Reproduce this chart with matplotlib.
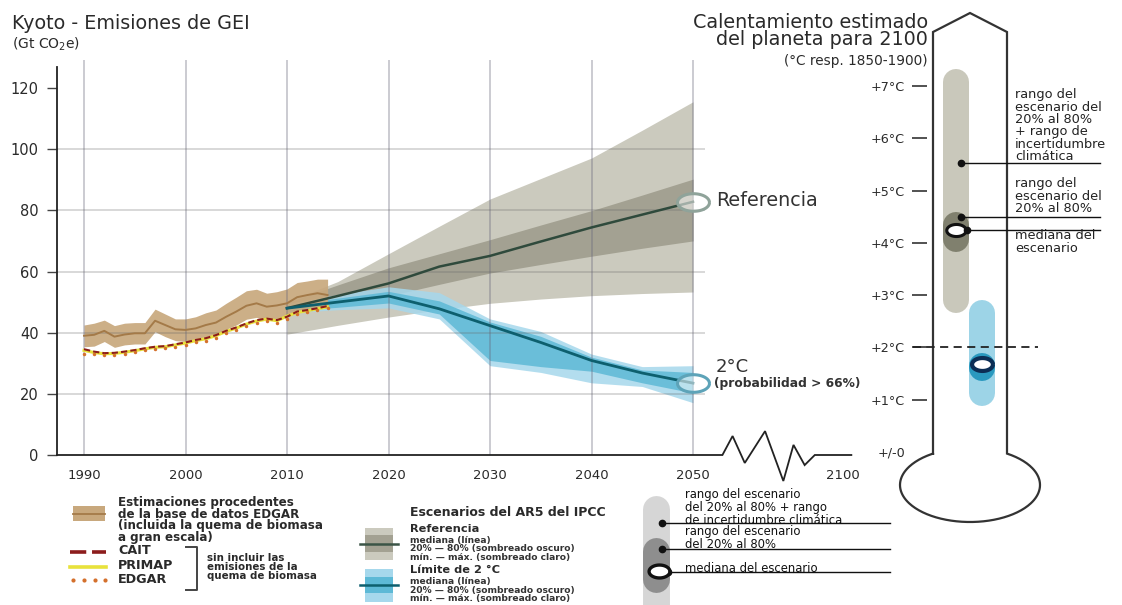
import numpy as np
import matplotlib
matplotlib.use('Agg')
import matplotlib.pyplot as plt
from matplotlib.path import Path

plt.rcParams['font.family'] = ['DejaVu Sans']

# ---- historical Kyoto GHG emissions (Gt CO2e), 1990-2014 ----
hist_years = list(range(1990, 2015))
edgar_bio_mid = [39.0, 39.3, 40.6, 38.7, 39.4, 39.8, 39.8, 43.9, 42.5, 41.1, 40.9, 41.4, 42.5,
                 43.3, 45.2, 46.9, 48.8, 49.6, 48.5, 48.9, 49.6, 51.6, 52.3, 52.9, 52.3]
edgar_bio_lo = [35.4, 35.6, 37.1, 35.2, 36.0, 36.3, 36.3, 40.3, 38.7, 37.4, 37.1, 37.8, 38.7,
                39.5, 41.1, 42.5, 44.4, 45.0, 44.1, 44.6, 45.2, 47.2, 48.0, 48.5, 48.0]
edgar_bio_hi = [42.5, 43.1, 44.1, 42.3, 43.1, 43.3, 43.3, 47.7, 46.1, 44.5, 44.5, 45.2, 46.5,
                47.4, 49.6, 51.6, 53.7, 54.2, 52.9, 53.4, 54.3, 56.4, 56.9, 57.5, 57.5]
cait = [34.6, 33.8, 33.3, 33.4, 33.8, 34.3, 34.9, 35.4, 35.6, 36.2, 36.8, 37.6, 38.2,
        39.2, 40.6, 41.7, 43.0, 44.1, 44.6, 44.1, 45.2, 46.9, 47.4, 48.0, 48.7]
primap = [34.2, 33.5, 33.1, 33.2, 33.6, 34.1, 34.7, 35.2, 35.4, 36.0, 36.6, 37.4, 38.0,
          39.0, 40.4, 41.5, 42.8, 43.8, 44.4, 43.9, 45.4, 46.6, 47.2, 47.8, 48.4]
edgar = [33.0, 33.1, 32.6, 32.8, 33.1, 33.6, 34.2, 34.7, 35.0, 35.4, 36.0, 36.8, 37.4,
         38.3, 39.8, 40.9, 42.2, 43.2, 43.8, 43.3, 44.6, 46.0, 46.7, 47.3, 48.0]

# ---- IPCC AR5 scenarios ----
scen_years = [2010, 2015, 2020, 2025, 2030, 2035, 2040, 2045, 2050]
ref_median = [48.0, 52.0, 56.1, 61.6, 65.1, 69.8, 74.4, 78.6, 82.8]
ref_p80 = [49.8, 55.6, 61.2, 65.8, 70.4, 75.2, 79.9, 85.0, 90.2]
ref_p20 = [46.3, 49.2, 52.0, 55.8, 59.5, 62.3, 65.0, 67.6, 70.0]
ref_max = [50.1, 56.7, 65.8, 74.8, 83.7, 90.4, 97.1, 106.2, 115.5]
ref_min = [39.5, 42.4, 45.1, 47.5, 49.6, 51.0, 52.1, 52.8, 53.3]

c2_median = [48.0, 50.0, 52.0, 47.8, 42.3, 36.8, 30.9, 26.8, 23.5]
c2_p80 = [49.0, 51.3, 53.5, 50.4, 43.5, 38.8, 32.0, 27.8, 27.0]
c2_p20 = [47.0, 48.3, 49.7, 46.1, 30.9, 28.9, 27.4, 23.6, 20.3]
c2_max = [49.5, 52.5, 55.0, 53.1, 44.5, 40.4, 33.0, 28.9, 29.2]
c2_min = [46.5, 47.5, 48.1, 44.5, 29.2, 27.0, 23.6, 22.4, 17.1]

# ---- warming by 2100 (degC vs 1850-1900) ----
ref_warm_range = [2.66, 7.32]
ref_warm_p20_80 = [3.82, 4.59]
ref_warm_median = 4.24
c2_warm_range = [0.88, 2.90]
c2_warm_p20_80 = [1.39, 1.85]
c2_warm_median = 1.68

year_ticks = [1990, 2000, 2010, 2020, 2030, 2040, 2050]
year_labels = ['1990', '2000', '2010', '2020', '2030', '2040', '2050']
value_ticks = [0, 20, 40, 60, 80, 100, 120]
value_grid = [20, 40, 60, 80, 100]
temp_ticks = [0, 1, 2, 3, 4, 5, 6, 7]
temp_labels = ['+/-0', '+1°C', '+2°C', '+3°C', '+4°C', '+5°C', '+6°C', '+7°C']

# colours
GRAY_LIGHT, GRAY_DARK, GRAY_LINE = '#cbcabe', '#a3a192', '#2f4a3c'
BLUE_LIGHT, BLUE_DARK, BLUE_LINE = '#a6d8ec', '#5db9d6', '#0d5f6e'
TAN, TAN_LINE = '#c8a87d', '#a47a48'
CAIT_C, PRIMAP_C, EDGAR_C = '#8c1c1c', '#e8e23c', '#d4702c'
TXT = '#2a2a2a'

W, H = 1122, 605
fig = plt.figure(figsize=(W / 100, H / 100), dpi=100)
ASC = 0.96  # line ascent used by the text layout, in em


def fx(px):
    return px / W


def fy(py):
    return 1 - py / H


def block(x, y_first, step, lines, size, **kw):
    # multi-line text; y_first is the centre of the first line, step the line pitch (px)
    em = size * 100 / 72
    fig.text(fx(x), fy(y_first - (ASC - 0.36) * em), '\n'.join(lines), va='top',
             linespacing=step / (ASC * em), fontsize=size, **kw)


# overlay in pixel units for the thermometer outline and legend swatches
deco = fig.add_axes([0, 0, 1, 1])
deco.set_xlim(0, W)
deco.set_ylim(H, 0)
deco.axis('off')

# ---------------- emissions panel ----------------
ax = fig.add_axes([fx(57), fy(455), (870 - 57) / W, (455 - 60) / H])
ax.patch.set_visible(False)
px_per_year = 10.15
px_per_gt = 3.0583
x_left = 1990 - (84 - 57) / px_per_year
x_right = 1990 + (870 - 84) / px_per_year
y_top = (455 - 60) / px_per_gt
ax.set_xlim(x_left, x_right)
ax.set_ylim(0, y_top)

ax.fill_between(scen_years, ref_min, ref_max, color=GRAY_LIGHT, lw=0, zorder=1)
ax.fill_between(scen_years, ref_p20, ref_p80, color=GRAY_DARK, lw=0, zorder=1.1)
ax.fill_between(scen_years, c2_min, c2_max, color=BLUE_LIGHT, alpha=0.85, lw=0, zorder=1.2)
ax.fill_between(scen_years, c2_p20, c2_p80, color=BLUE_DARK, alpha=0.85, lw=0, zorder=1.3)
ax.fill_between(hist_years, edgar_bio_lo, edgar_bio_hi, color=TAN, alpha=0.92, lw=0, zorder=1.4)

# grid drawn translucent so it shows through the bands
ax.vlines(year_ticks, 0, y_top, color=(0.4, 0.4, 0.48, 0.34), lw=1.4, zorder=2)
ax.hlines(value_grid, x_left, 2051.2, color=(0.4, 0.4, 0.4, 0.27), lw=1.3, zorder=2)

ax.plot(hist_years, edgar_bio_mid, color=TAN_LINE, lw=1.4, zorder=3)
ax.plot(scen_years, ref_median, color=GRAY_LINE, lw=1.8, zorder=3)
ax.plot(scen_years, c2_median, color=BLUE_LINE, lw=2.0, zorder=3)
ax.plot(hist_years, primap, color=PRIMAP_C, lw=2.2, zorder=3.1)
ax.plot(hist_years, cait, color=CAIT_C, lw=1.5, dashes=(3, 1.5), zorder=3.2)
ax.plot(hist_years, edgar, ls='none', marker='o', ms=2.5, mew=0, color=EDGAR_C, zorder=3.3)

# end-point rings
tt = np.linspace(0, 2 * np.pi, 80)
ring = Path(np.column_stack([np.cos(tt), 0.55 * np.sin(tt)]))
ax.plot([scen_years[-1]], [ref_median[-1]], ls='none', marker=ring, ms=23,
        mec='#8fa39a', mew=2.2, mfc=(1, 1, 1, 0.55), zorder=4, clip_on=False)
ax.plot([scen_years[-1]], [c2_median[-1]], ls='none', marker=ring, ms=23,
        mec='#5da3b8', mew=2.2, mfc=(1, 1, 1, 0.55), zorder=4, clip_on=False)

for s in ['top', 'right', 'bottom']:
    ax.spines[s].set_visible(False)
ax.spines['left'].set_bounds(0, 127)
ax.spines['left'].set_color('#222222')
ax.spines['left'].set_linewidth(1.3)

# x axis with a break before 2100
break_x = [x_left, 2052.9, 2053.9, 2055.1, 2057.1, 2058.9, 2059.9, 2061.0, 2062.0, 2065.6]
break_y = [0, 0, 6.2, -2.6, 7.8, -8.5, 3.3, -3.3, 0, 0]
ax.plot(break_x, break_y, color='#222222', lw=1.3, clip_on=False, zorder=5,
        solid_joinstyle='miter')
pos_2100 = 2064.8

ax.set_yticks(value_ticks)
ax.set_yticklabels([str(v) for v in value_ticks])
ax.tick_params(axis='y', length=7.2, width=1.0, color='#444444', pad=6,
               labelsize=10.5, labelcolor=TXT)
ax.set_xticks(year_ticks + [pos_2100])
ax.set_xticklabels(year_labels + ['2100'])
ax.tick_params(axis='x', length=0, pad=10, labelsize=9.5, labelcolor=TXT)

fig.text(fx(12), fy(23.5), 'Kyoto - Emisiones de GEI', fontsize=13.8, color=TXT, va='center')
fig.text(fx(12), fy(44), '(Gt CO$_2$e)', fontsize=10, color=TXT, va='center')

fig.text(fx(716), fy(200), 'Referencia', fontsize=13.8, color='#333333', va='center')
fig.text(fx(716), fy(367), '2°C', fontsize=13, color='#333333', va='center')
fig.text(fx(714), fy(384), '(probabilidad > 66%)', fontsize=8.8, fontweight='bold',
         color='#333333', va='center')

# ---------------- thermometer ----------------
block(928, 24, 17, ['Calentamiento estimado', 'del planeta para 2100'], 13.8,
      color=TXT, ha='right', multialignment='right')
fig.text(fx(928), fy(61), '(°C resp. 1850-1900)', fontsize=9.8, color=TXT,
         ha='right', va='center')

tube_l, tube_r, shoulder, peak = 933, 1007, 32, 13
bulb_cx, bulb_cy, bulb_a, bulb_b = 970, 485, 70, 37
t0 = np.degrees(np.arccos((tube_r - bulb_cx) / bulb_a))
tb = np.radians(np.linspace(t0, -180 - t0, 200))
bx = bulb_cx + bulb_a * np.cos(tb)
by = bulb_cy - bulb_b * np.sin(tb)
outline_x = np.concatenate([[tube_l, tube_l, bulb_cx, tube_r, tube_r], bx])
outline_y = np.concatenate([[by[-1], shoulder, peak, shoulder, by[0]], by])
deco.plot(outline_x, outline_y, color='#333333', lw=1.6, solid_joinstyle='miter')

tax_top, tax_bottom = 0, 530
px_per_deg = 52.29
tax = fig.add_axes([fx(927), fy(tax_bottom), (W - 927) / W, (tax_bottom - tax_top) / H])
tax.patch.set_visible(False)
tax.set_xlim(927, W)
tax.set_ylim(-(tax_bottom - 452) / px_per_deg, (452 - tax_top) / px_per_deg)
for s in tax.spines.values():
    s.set_visible(False)
tax.set_xticks([])
tax.set_yticks(temp_ticks)
tax.set_yticklabels(temp_labels)
tax.tick_params(axis='y', length=10.8, width=1.2, color='#333333', pad=5,
                labelsize=9.2, labelcolor=TXT)
tax.yaxis.get_major_ticks()[0].tick1line.set_visible(False)

bar_w = 26
cap = (bar_w / 2) / px_per_deg
lw_bar = bar_w * 0.72


def temp_bar(xc, lo, hi, color, z):
    tax.plot([xc, xc], [lo + cap, hi - cap], color=color, lw=lw_bar,
             solid_capstyle='round', zorder=z)


temp_bar(956, ref_warm_range[0], ref_warm_range[1], '#c9c8bb', 2)
temp_bar(956, ref_warm_p20_80[0], ref_warm_p20_80[1], '#80806e', 3)
temp_bar(982, c2_warm_range[0], c2_warm_range[1], '#9dd4e7', 2)
temp_bar(982, c2_warm_p20_80[0], c2_warm_p20_80[1], '#2a99bf', 3)

med_ring = Path(np.column_stack([np.cos(tt), 0.62 * np.sin(tt)]))
tax.plot([956], [ref_warm_median], ls='none', marker=med_ring, ms=14, mec='#111111',
         mew=2.2, mfc='white', zorder=5)
tax.plot([982], [c2_warm_median], ls='none', marker=med_ring, ms=15, mec='#0c2e55',
         mew=3.0, mfc='white', zorder=5)

tax.plot([913, 1038], [2, 2], color='#222222', lw=1.3, dashes=(4.5, 3), clip_on=False, zorder=6)

# callouts
callout_temps = [5.53, 4.49]
for ct in callout_temps:
    tax.plot([961, 1100], [ct, ct], color='#111111', lw=1.0, zorder=6)
    tax.plot([961], [ct], 'o', color='#111111', ms=4.5, zorder=6)
tax.plot([966, 1100], [ref_warm_median, ref_warm_median], color='#111111', lw=1.0, zorder=4)
tax.plot([967], [ref_warm_median], 'o', color='#111111', ms=4.5, zorder=6)

block(1015, 96, 11.6, ['rango del', 'escenario del', '20% al 80%', '+ rango de',
                       'incertidumbre', 'climática'], 9.3, color='#222222')
block(1015, 185, 11.6, ['rango del', 'escenario del', '20% al 80%'], 9.3, color='#222222')
block(1015, 237, 12.0, ['mediana del', 'escenario'], 9.3, color='#222222')

# ---------------- legends ----------------
# EDGAR incl. biomass
deco.fill_between([73, 105], 506, 521, color=TAN, lw=0)
deco.plot([73, 105], [513.5, 513.5], color=TAN_LINE, lw=1.3)
block(118, 503, 10, ['Estimaciones procedentes', 'de la base de datos EDGAR',
                     '(incluida la quema de biomasa', 'a gran escala)'],
      8.6, fontweight='bold', color=TXT)

deco.plot([70, 106], [552, 552], color=CAIT_C, lw=2.6, dashes=(4.5, 1.6))
deco.plot([70, 106], [567, 567], color=PRIMAP_C, lw=2.6)
deco.plot([73, 84, 95, 105], [580, 580, 580, 580], ls='none', marker='o', ms=3,
          mew=0, color=EDGAR_C)
block(118, 552, 14, ['CAIT', 'PRIMAP', 'EDGAR'], 9.2, fontweight='bold', color=TXT)
deco.plot([186, 197, 197, 186], [547, 547, 590, 590], color='#444444', lw=1.4)
block(207, 559, 9, ['sin incluir las', 'emisiones de la', 'quema de biomasa'],
      7.4, fontweight='bold', color=TXT)

# AR5 scenarios
fig.text(fx(410), fy(513), 'Escenarios del AR5 del IPCC', fontsize=9.0, fontweight='bold',
         color=TXT, va='center')
deco.fill_between([365, 393], 528, 560, color=GRAY_LIGHT, lw=0)
deco.fill_between([365, 393], 535, 552, color=GRAY_DARK, lw=0)
deco.plot([360, 398], [544, 544], color='#3b5446', lw=1.8)
deco.fill_between([365, 393], 569, 602, color=BLUE_LIGHT, lw=0)
deco.fill_between([365, 393], 577, 593, color=BLUE_DARK, lw=0)
deco.plot([360, 398], [585, 585], color=BLUE_LINE, lw=1.8)
fig.text(fx(410), fy(528.5), 'Referencia', fontsize=8.2, fontweight='bold', color=TXT,
         va='center')
block(410, 541.5, 8.0, ['mediana (línea)', '20% — 80% (sombreado oscuro)',
                        'mín. — máx. (sombreado claro)'],
      6.6, fontweight='bold', color='#333333')
fig.text(fx(410), fy(570), 'Límite de 2 °C', fontsize=8.2, fontweight='bold', color=TXT,
         va='center')
block(410, 582.8, 7.9, ['mediana (línea)', '20% — 80% (sombreado oscuro)',
                        'mín. — máx. (sombreado claro)'],
      6.6, fontweight='bold', color='#333333')

# warming bar key
deco.plot([656.5, 656.5], [508.5, 625], color='#d6d6d6', lw=19.4, solid_capstyle='round')
deco.plot([656.5, 656.5], [550.5, 578.5], color='#8e8e8e', lw=19.4, solid_capstyle='round')
deco.plot([662, 890], [523, 523], color='#111111', lw=1.0)
deco.plot([662, 890], [549, 549], color='#111111', lw=1.0)
deco.plot([662, 662], [523, 549], ls='none', marker='o', ms=4.5, color='#111111')
deco.plot([667, 890], [572, 572], color='#111111', lw=1.0)
deco.plot([668], [572], ls='none', marker='o', ms=4.5, color='#111111')
deco.plot([659], [571], ls='none', marker=med_ring, ms=15, mec='#111111', mew=2.4, mfc='white')
block(685, 495, 11, ['rango del escenario', 'del 20% al 80% + rango',
                     'de incertidumbre climática'], 8.4, color='#111111')
block(685, 532, 11, ['rango del escenario', 'del 20% al 80%'], 8.4, color='#111111')
fig.text(fx(685), fy(569), 'mediana del escenario', fontsize=8.4, color='#111111',
         va='center')

fig.savefig('out.png', dpi=100)
